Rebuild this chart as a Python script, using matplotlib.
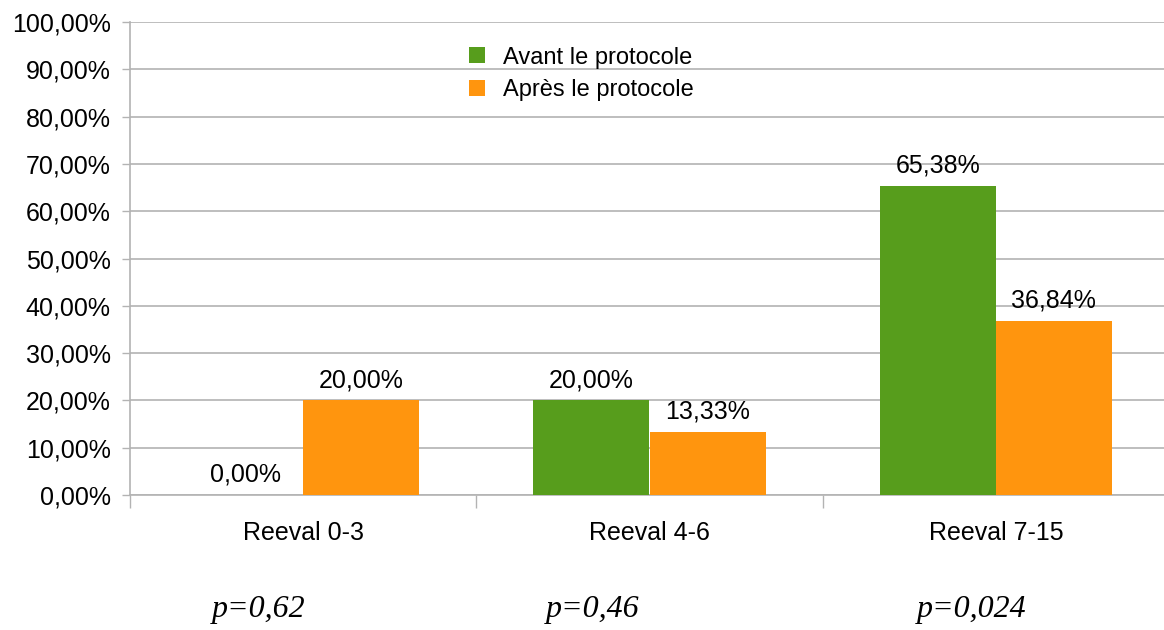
import numpy as np
import matplotlib.pyplot as plt
from matplotlib.ticker import FuncFormatter, FixedLocator

categories = ['Reeval 0-3', 'Reeval 4-6', 'Reeval 7-15']
avant = [0.00, 20.00, 65.38]
apres = [20.00, 13.33, 36.84]
p_values = ['p=0,62', 'p=0,46', 'p=0,024']
series_names = ['Avant le protocole', 'Après le protocole']

green = '#579d1c'
orange = '#ff950e'
grid_col = '#b3b3b3'

plt.rcParams['font.family'] = ['Liberation Sans', 'DejaVu Sans']

fig = plt.figure(figsize=(11.64, 6.3), dpi=100)
ax = fig.add_axes([130 / 1164, 1 - 495 / 630, 1039 / 1164, 473 / 630])

x = np.arange(len(categories))
w = 0.335
b1 = ax.bar(x - w / 2, avant, w, color=green, label=series_names[0], zorder=3)
b2 = ax.bar(x + w / 2, apres, w, color=orange, label=series_names[1], zorder=3)

def fr(v):
    return f'{v:.2f}'.replace('.', ',') + '%'

for bars, vals in [(b1, avant), (b2, apres)]:
    for rect, v in zip(bars, vals):
        ax.annotate(fr(v), (rect.get_x() + rect.get_width() / 2, v),
                    xytext=(0, 6), textcoords='offset points',
                    ha='center', va='bottom', fontsize=18, color='black')

ax.set_xlim(-0.5, 2.5)
ax.set_ylim(0, 100)
ax.set_yticks(np.arange(0, 101, 10))
ax.yaxis.set_major_formatter(FuncFormatter(lambda v, p: fr(v)))
ax.yaxis.grid(True, color=grid_col, linewidth=1.2, zorder=0)
ax.tick_params(axis='y', length=6, width=1, color=grid_col, pad=8, labelsize=18)

ax.set_xticks(x)
ax.set_xticklabels(categories)
ax.xaxis.set_minor_locator(FixedLocator([-0.5, 0.5, 1.5, 2.5]))
ax.tick_params(axis='x', which='major', length=0, pad=19, labelsize=18)
ax.tick_params(axis='x', which='minor', length=9, width=1, color=grid_col)

for s in ['top', 'right']:
    ax.spines[s].set_visible(False)
for s in ['left', 'bottom']:
    ax.spines[s].set_color(grid_col)
    ax.spines[s].set_linewidth(1.2)

leg = ax.legend(loc='upper left', bbox_to_anchor=(318 / 1039, 0.993), frameon=False,
                handlelength=0.68, handleheight=0.68, handletextpad=0.76, labelspacing=0.45,
                prop={'size': 17})

p_x = [259, 593, 972]
for px, txt in zip(p_x, p_values):
    fig.text(px / 1164, 1 - 610 / 630, txt, ha='center', va='center',
             fontsize=23, style='italic', family=['Liberation Serif', 'DejaVu Serif'])

fig.savefig('out.png', dpi=100)
